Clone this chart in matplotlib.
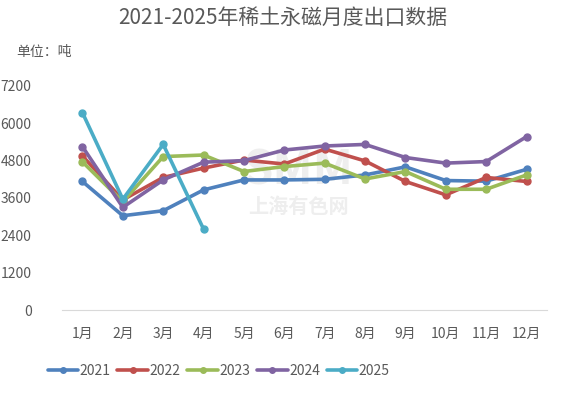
import matplotlib
matplotlib.use("Agg")
import matplotlib.pyplot as plt

plt.rcParams['font.family'] = ['Noto Sans CJK SC', 'DejaVu Sans']

months = ["1月", "2月", "3月", "4月", "5月", "6月", "7月", "8月", "9月", "10月", "11月", "12月"]
y2021 = [4130, 3030, 3190, 3860, 4180, 4180, 4200, 4340, 4600, 4160, 4140, 4520]
y2022 = [4950, 3540, 4260, 4560, 4820, 4690, 5170, 4790, 4130, 3700, 4260, 4130]
y2023 = [4760, 3480, 4930, 4980, 4450, 4610, 4720, 4210, 4450, 3880, 3880, 4340]
y2024 = [5250, 3300, 4180, 4750, 4800, 5140, 5270, 5320, 4900, 4720, 4770, 5570]
y2025 = [6340, 3560, 5320, 2600]
yticks = [0, 1200, 2400, 3600, 4800, 6000, 7200]

series = [("2021", y2021, "#4f81bd"), ("2022", y2022, "#c0504d"),
          ("2023", y2023, "#9bbb59"), ("2024", y2024, "#8064a2"),
          ("2025", y2025, "#4bacc6")]

fig = plt.figure(figsize=(5.66, 3.94), dpi=100)
ax = fig.add_axes([0.110, 0.213, 0.856, 0.569])
ax.set_facecolor('none')

# watermark, behind the lines
fig.text(0.527, 0.566, "SMM", fontsize=34, fontweight='bold', color='#eeeeee',
         ha='center', va='center', zorder=-5)
fig.text(0.527, 0.477, "上海有色网", fontsize=14.5, fontweight='bold', color='#eeeeee',
         ha='center', va='center', zorder=-5)

x = list(range(1, 13))
for name, vals, col in series:
    ax.plot(x[:len(vals)], vals, color=col, lw=2.6, marker='o', ms=5, label=name,
            solid_capstyle='round', solid_joinstyle='round')

ax.set_xlim(0.5, 12.5)
ax.set_ylim(0, 7200)
ax.set_yticks(yticks)
ax.set_xticks(x)
ax.set_xticklabels(months)
for s in ['top', 'right', 'left']:
    ax.spines[s].set_visible(False)
ax.spines['bottom'].set_color('#d9d9d9')
ax.tick_params(axis='both', length=0, labelsize=10, colors='#595959')
ax.tick_params(axis='y', pad=22)
ax.tick_params(axis='x', pad=12)

fig.text(0.5, 0.955, "2021-2025年稀土永磁月度出口数据", ha='center', va='center',
         fontsize=15, color='#595959')
fig.text(0.028, 0.868, "单位：吨", ha='left', va='center', fontsize=10, color='#595959')

fig.legend(loc='center left', bbox_to_anchor=(0.062, 0.058), ncol=5, frameon=False,
           fontsize=10, handlelength=2.2, handletextpad=0.1, columnspacing=0.5,
           labelcolor='#595959', markerscale=0.8)

fig.savefig("out.png", dpi=100)
